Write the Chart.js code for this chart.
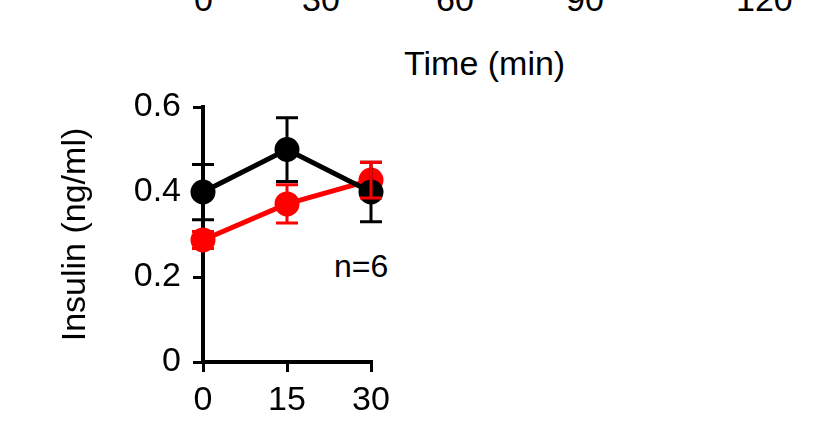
<!DOCTYPE html>
<html><head><meta charset="utf-8">
<script src="https://cdn.jsdelivr.net/npm/chart.js@4/dist/chart.umd.min.js"></script>
<style>
body{margin:0;background:#fff;width:823px;height:430px;overflow:hidden;position:relative;font-family:"Liberation Sans",Arial,sans-serif}
.t{position:absolute;font-size:34px;color:#000;white-space:nowrap}
canvas{position:absolute;left:0;top:0}
</style></head><body>
<div class="t" style="left:194px;top:-20px">0</div>
<div class="t" style="left:302px;top:-20px">30</div>
<div class="t" style="left:436px;top:-20px">60</div>
<div class="t" style="left:566px;top:-20px">90</div>
<div class="t" style="left:736px;top:-20px">120</div>
<div class="t" style="left:404px;top:44px">Time (min)</div>
<div class="t" style="left:334px;top:248px;font-size:32px">n=6</div>
<canvas id="c" width="823" height="430"></canvas>
<script>
const times=[0,15,30];
const ctrlMean=[0.40,0.50,0.40];
const ctrlErr=[0.065,0.075,0.07];
const trtMean=[0.287,0.372,0.428];
const trtErr=[0.02,0.045,0.042];
const yTicks=[0,0.2,0.4,0.6];

const errPlugin={id:'err',afterDatasetsDraw(ch){
  const c=ch.ctx,x=ch.scales.x,y=ch.scales.y;
  ch.data.datasets.forEach(ds=>{
    c.save();c.strokeStyle=ds.borderColor;c.lineWidth=3;
    ds.data.forEach((p,i)=>{
      const e=ds.err[i],px=x.getPixelForValue(p.x);
      const t=y.getPixelForValue(p.y+e),b=y.getPixelForValue(p.y-e);
      c.beginPath();c.moveTo(px,t);c.lineTo(px,b);
      c.moveTo(px-11,t);c.lineTo(px+11,t);c.moveTo(px-11,b);c.lineTo(px+11,b);c.stroke();
    });
    c.restore();
  });
}};
const mk=(m,e,col)=>({data:times.map((t,i)=>({x:t,y:m[i]})),err:e,borderColor:col,backgroundColor:col,
  borderWidth:5,pointRadius:10,pointHoverRadius:10,clip:false,tension:0});
new Chart(document.getElementById('c'),{
  type:'line',
  data:{datasets:[mk(ctrlMean,ctrlErr,'#000000'),mk(trtMean,trtErr,'#ff0000')]},
  options:{responsive:false,animation:false,events:[],
    layout:{padding:{left:55,top:107,right:452,bottom:0}},
    plugins:{legend:{display:false},tooltip:{enabled:false}},
    scales:{
      x:{type:'linear',min:0,max:30,afterBuildTicks:s=>{s.ticks=times.map(v=>({value:v}))},
        afterFit:s=>{s.height=430-362},
        border:{color:'#000',width:4},
        grid:{drawOnChartArea:false,color:'#000',lineWidth:3,tickLength:10},
        ticks:{color:'#000',font:{size:34,family:'Liberation Sans'},padding:8,maxRotation:0}},
      y:{min:0,max:0.6,afterBuildTicks:s=>{s.ticks=yTicks.map(v=>({value:v}))},
        afterFit:s=>{s.width=203-55},
        border:{color:'#000',width:4},
        grid:{drawOnChartArea:false,color:'#000',lineWidth:3,tickLength:10},
        title:{display:true,text:'Insulin (ng/ml)',color:'#000',font:{size:34,family:'Liberation Sans'},padding:0},
        ticks:{color:'#000',font:{size:34,family:'Liberation Sans'},padding:12,callback:v=>String(v)}}
    }},
  plugins:[errPlugin]
});
</script></body></html>
